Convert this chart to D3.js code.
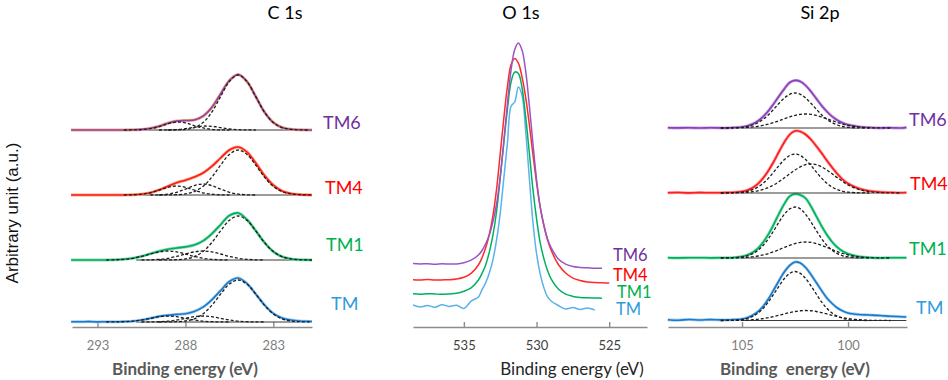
<!DOCTYPE html>
<html><head><meta charset="utf-8">
<script src="https://cdn.jsdelivr.net/npm/d3@7"></script>
<style>body{margin:0;background:#fff}</style></head>
<body><svg id="chart" width="948" height="380"></svg>
<script>
// ---------------- DATA ----------------
const samples = ["TM", "TM1", "TM4", "TM6"];
const panelTitles = ["C 1s", "O 1s", "Si 2p"];
const axisTitles = ["Binding energy (eV)", "Binding energy (eV)", "Binding  energy (eV)"];
const yTitle = "Arbitrary unit (a.u.)";

// C 1s  (binding energy, eV)
const cTicks = [293, 288, 283];
const cGrid = [294.5,294,293.5,293,292.5,292,291.5,291,290.5,290,289.5,289,288.5,288,287.5,287,286.5,286,285.5,285,284.5,284,283.5,283,282.5,282,281.5,281,280.8];
const cFitRange = [290.8, 280.8];
const cOffsets = [5, 67, 132, 197];
const cTM  = [0.3,0.2,0.4,0.1,0.3,0.2,0.4,0.8,2.0,3.7,5.6,6.8,7.6,8.2,10.5,14.9,22.2,31.4,40.5,44,38.5,28,17,8.6,4,2,1,0.6,0.5];
const cTM1 = [0,0,0,0,0,0.2,0.7,1.7,3.6,6.2,8.8,10.7,12,13.1,15,19.1,26.2,35.3,44.5,47,40.4,29.3,17.4,8.4,3.3,1.1,0.3,0.1,0];
const cTM4 = [0,0,0,0,0,0,0,0.2,0.8,2.2,5.1,8.7,12.3,14.8,17.9,22,28.6,37,45,48,43,32,19.5,9.8,4,1.4,0.4,0.1,0];
const cTM6 = [0,0,0,0,0,0,0,0.2,0.6,1.6,3.8,6.8,8.9,9.5,10,13.8,22.5,36,49.5,55.5,48.5,33.5,17.8,7.5,2.5,0.7,0.2,0,0];
// fitted components (C-C main, C-O middle, O-C=O shoulder)
const cTMmain  = [0,0,0,0,0,0,0,0,0,0,0,0.1,0.3,1.0,3.2,8.1,16.6,27.8,37.9,42,37.9,27.8,16.6,8.1,3.2,1.0,0.3,0.1,0];
const cTMmid   = [0,0,0,0,0,0,0,0,0,0.1,0.3,0.8,2.0,3.6,5.3,6,5.3,3.6,2.0,0.8,0.3,0.1,0,0,0,0,0,0,0];
const cTMsh    = [0,0,0,0,0,0.1,0.3,0.8,2.0,3.6,5.3,6,5.3,3.6,2.0,0.8,0.3,0.1,0,0,0,0,0,0,0,0,0,0,0];
const cTM1main = [0,0,0,0,0,0,0,0,0,0,0,0.1,0.3,1.1,3.3,8.4,17.4,29.1,39.7,44,39.7,29.1,17.4,8.4,3.3,1.1,0.3,0.1,0];
const cTM1mid  = [0,0,0,0,0,0,0,0,0,0.2,0.7,1.7,3.6,6.0,8.1,9,8.1,6.0,3.6,1.7,0.7,0.2,0,0,0,0,0,0,0];
const cTM1sh   = [0,0,0,0,0,0.2,0.7,1.7,3.6,6.0,8.1,9,8.1,6.0,3.6,1.7,0.7,0.2,0,0,0,0,0,0,0,0,0,0,0];
const cTM4main = [0,0,0,0,0,0,0,0,0,0,0,0.1,0.3,1.1,3.4,8.6,17.8,29.8,40.6,45,40.6,29.8,17.8,8.6,3.4,1.1,0.3,0.1,0];
const cTM4mid  = [0,0,0,0,0,0,0,0,0,0,0.2,0.9,2.7,5.9,9.4,11,9.4,5.9,2.7,0.9,0.2,0,0,0,0,0,0,0,0];
const cTM4sh   = [0,0,0,0,0,0,0,0.2,0.8,2.2,4.9,7.7,9,7.7,4.9,2.2,0.8,0.2,0,0,0,0,0,0,0,0,0,0,0];
const cTM6main = [0,0,0,0,0,0,0,0,0,0,0,0,0.1,0.6,2.4,7.4,17.8,33.4,48.5,55,48.5,33.4,17.8,7.4,2.4,0.6,0.1,0,0];
const cTM6mid  = [0,0,0,0,0,0,0,0,0,0,0,0.1,0.4,1.3,2.7,3.9,3.7,2.4,1.0,0.3,0.1,0,0,0,0,0,0,0,0];
const cTM6sh   = [0,0,0,0,0,0,0,0.1,0.4,1.3,3.4,6.2,7.9,7.2,4.3,2.1,0.6,0.1,0,0,0,0,0,0,0,0,0,0,0];

// O 1s
const oTicks = [535, 530, 525];
const oGrid = [538.5,538,537.5,537,536.5,536,535.5,535,534.5,534,533.75,533.5,533.25,533,532.75,532.5,532.25,532,531.75,531.5,531.25,531,530.75,530.5,530.25,530,529.75,529.5,529.25,529,528.5,528,527.5,527,526.5,526,525.5,525];
const oOffsets = [17, 29, 44, 59];
const oTM  = [5,3,4.5,2.8,5.2,3.5,4.8,1.5,8.9,13,20.3,27.2,37.1,50.2,70.1,96.7,132,167.5,204,208,223,214.8,179.5,132.8,88,56.5,36.2,22.5,13.4,9,4.5,1,2.5,0.5,2,0,null,null];
const oTM1 = [4.2,3.8,4.3,4,3.7,4.1,4.7,6.7,10.1,18,24.6,33.1,45.9,62.8,86.5,120,155.7,189.3,216.1,225.9,224.6,210.5,181.3,146,108.8,79.3,55.3,39.6,27.7,19.1,9,3.8,1.6,0.6,0.2,0,-0.2,null];
const oTM4 = [3.2,3,3.4,2.9,3.1,3.3,4,5.7,9.7,18,25.3,35.2,48.5,67.3,93.8,129.2,164.8,196.8,218.4,224.5,219.8,206.1,185.9,159,128.7,100.7,75.9,58,43.5,33,18.5,10,4.9,2.5,1,0.4,0.2,0];
const oTM6 = [4.5,4,4.3,3.8,4.2,4,4.1,5.3,7.8,13,17.5,24.3,33,46.4,64.2,91,126.8,164.7,198.3,218.5,225,218,197.3,163.2,124.8,88.5,61.3,43,29.3,20.3,9,3.8,1.4,0.6,0.2,-0.3,-0.2,null];

// Si 2p
const sTicks = [105, 100];
const sGrid = [108.5,108,107.5,107,106.5,106,105.5,105,104.75,104.5,104.25,104,103.75,103.5,103.25,103,102.75,102.5,102.25,102,101.75,101.5,101.25,101,100.75,100.5,100.25,100,99.5,99,98.5,98,97.5,97.25];
const sFitRange = [106.5, 97.25];
const sOffsets = [6.5, 69, 134, 199];
const sTM  = [0.8,0.3,1.0,0.5,0.9,0.6,0.8,1.5,2.8,5.2,8.8,14.3,21.7,30.8,40,48.8,55.2,58.5,57.5,53,46,38,30,22.5,17,12.5,9.5,7.5,6,5.5,5,4.2,3.8,3.5];
const sTM1 = [0.3,0.1,0.2,0.3,0.1,0.2,0.3,1.5,2.9,5.5,9.7,15.8,23.9,33.8,44.5,54.3,61.8,64,63,59.7,51.7,41.9,32.1,23.3,16.1,10.6,6.7,4.2,1.4,0.4,0.1,0.2,0.3,0.2];
const sTM4 = [0.2,0.5,0.1,0.4,0.2,0.3,0.5,1.4,2.8,5.3,9.2,15,22.5,31.5,41.5,51,58.5,62,61.5,58.5,53.5,47,40,32.5,25.5,19,13.5,9.5,4.5,2,0.9,0.5,0.3,0.5];
const sTM6 = [0.3,0.1,0.2,0,0.2,0.1,0.3,1.0,2.1,4.1,7.0,11.4,17.2,24.4,32.0,39.3,45.5,47.6,46.5,42.5,36.5,29.5,22.5,16.5,11.5,7.8,5,3.2,1.2,0.4,0.1,0.2,0,0.6];
// fitted components (Si-O main, second)
const sTMmain  = [0,0,0,0,0,0,0.2,1.0,2.2,4.2,7.4,12.2,18.7,26.5,34.6,42,47.1,49,47.1,42,34.6,26.5,18.7,12.2,7.4,4.2,2.2,1.0,0.2,0,0,0,0,0];
const sTMc2    = [0,0,0,0,0,0,0.1,0.2,0.4,0.8,1.2,1.9,2.8,4.0,5.2,6.6,7.9,9.0,9.75,10,9.75,9.0,7.9,6.6,5.2,4.0,2.8,1.9,0.8,0.2,0.1,0,0,0];
const sTM1main = [0,0,0,0,0,0,0.2,1.1,2.2,4.3,7.7,12.7,19.4,27.5,36.1,43.7,49.1,51,49.1,43.7,36.1,27.5,19.4,12.7,7.7,4.3,2.2,1.1,0.2,0,0,0,0,0];
const sTM1c2   = [0,0,0,0,0,0,0.1,0.4,0.7,1.2,2.0,3.1,4.5,6.3,8.4,10.6,12.7,14.4,15.6,16,15.6,14.4,12.7,10.6,8.4,6.3,4.5,3.1,1.2,0.4,0.1,0,0,0];
const sTM4main = [0,0,0,0,0,0,0.2,0.8,1.7,3.3,5.9,9.7,14.9,21.1,27.6,33.4,37.5,39,37.5,33.4,27.6,21.1,14.9,9.7,5.9,3.3,1.7,0.8,0.2,0,0,0,0,0];
const sTM4c2   = [0,0,0,0,0,0,0.1,0.4,0.7,1.3,2.2,3.6,5.6,8.1,11.5,15.2,19.2,23,26.2,28.3,29,28.3,26.2,23,19.2,15.2,11.5,8.1,3.6,1.3,0.4,0.1,0,0];
const sTM6main = [0,0,0,0,0,0,0.1,0.7,1.5,3.0,5.3,8.7,13.3,18.9,24.7,30.0,33.7,35,33.7,30.0,24.7,18.9,13.3,8.7,5.3,3.0,1.5,0.7,0.1,0,0,0,0,0];
const sTM6c2   = [0,0,0,0,0,0,0.1,0.3,0.6,1.1,1.7,2.7,3.9,5.5,7.3,9.3,11.1,12.6,13.7,14,13.7,12.6,11.1,9.3,7.3,5.5,3.9,2.7,1.1,0.3,0.1,0,0,0];

// ---------------- STYLE / LAYOUT ----------------
const lineColor  = {TM:"#1a7bcb", TM1:"#00b060", TM4:"#ff1e1e", TM6:"#8a40b8"};
const oLineColor = {TM:"#5ab2ea", TM1:"#00b060", TM4:"#ff2a2a", TM6:"#9a55c4"};
const labelColor = {TM:"#2f9be0", TM1:"#00b050", TM4:"#ff0000", TM6:"#7030a0"};
const cHalo = {TM:"#a9d0f0", TM1:"#8fd8b0", TM4:"#f7a27a", TM6:"#f4a86c"};
const sHalo = {TM:"#a9d0f0", TM1:"#8fe0b8", TM4:"#ff9c9c", TM6:"#caa8e2"};

const svg = d3.select("#chart");
const y = d3.scaleLinear().domain([0, 300]).range([327, 27]);
const FONT = "Lato, 'Open Sans', sans-serif";

const panels = [
  {key:"C", grid:cGrid, ticks:cTicks, range:[72,312], domain:[294.45,280.8], offsets:cOffsets,
   spectra:{TM:cTM, TM1:cTM1, TM4:cTM4, TM6:cTM6},
   comps:{TM:[cTMmain,cTMmid,cTMsh], TM1:[cTM1main,cTM1mid,cTM1sh], TM4:[cTM4main,cTM4mid,cTM4sh], TM6:[cTM6main,cTM6mid,cTM6sh]},
   fit:cFitRange, halo:cHalo, colors:lineColor, titleX:285, axisBold:true, axisTitleX:185, labelSize:18,
   labelPos:{TM:[331,-18], TM1:[326,-15], TM4:[325,-7], TM6:[323,-7]}, tickColor:"#7f7f7f"},
  {key:"O", grid:oGrid, ticks:oTicks, range:[413,647], domain:[538.5,522.4], offsets:oOffsets,
   spectra:{TM:oTM, TM1:oTM1, TM4:oTM4, TM6:oTM6}, comps:null, fit:null, halo:null, colors:oLineColor,
   titleX:521, axisBold:false, axisTitleX:572, labelSize:16.5,
   labelPos:{TM:[616,309], TM1:[617,292.5], TM4:[613,275], TM6:[613,255]}, absLabel:true, tickColor:"#404040"},
  {key:"S", grid:sGrid, ticks:sTicks, range:[668,907], domain:[108.49,97.22], offsets:sOffsets,
   spectra:{TM:sTM, TM1:sTM1, TM4:sTM4, TM6:sTM6},
   comps:{TM:[sTMmain,sTMc2], TM1:[sTM1main,sTM1c2], TM4:[sTM4main,sTM4c2], TM6:[sTM6main,sTM6c2]},
   fit:sFitRange, halo:sHalo, colors:lineColor, titleX:820, axisBold:true, axisTitleX:795, labelSize:18,
   labelPos:{TM:[916,-12.5], TM1:[909,-9], TM4:[910,-9], TM6:[909,-8]}, tickColor:"#7f7f7f"}
];

function trimZeros(pts){
  let a = 0, b = pts.length - 1;
  while (a < pts.length && !(pts[a][1] > 0)) a++;
  while (b >= 0 && !(pts[b][1] > 0)) b--;
  return pts.slice(Math.max(0, a - 1), Math.min(pts.length, b + 2));
}

panels.forEach((p, pi) => {
  const x = d3.scaleLinear().domain(p.domain).range(p.range);
  const g = svg.append("g");
  const line = (off) => d3.line().defined(d => d[1] != null)
      .x(d => x(d[0])).y(d => y(d[1] + off)).curve(d3.curveCatmullRom.alpha(0.5));

  // axis
  const axis = d3.axisBottom(x).tickValues(p.ticks).tickSize(-5).tickSizeOuter(0).tickPadding(14).tickFormat(d3.format("d"));
  const ag = g.append("g").attr("transform", `translate(0,${y(0)})`).call(axis);
  ag.select(".domain").attr("stroke", "#8c8c8c").attr("stroke-width", 1.6);
  ag.selectAll(".tick line").attr("stroke", "#8c8c8c").attr("stroke-width", 1.4);
  ag.selectAll(".tick text").attr("font-family", FONT).attr("font-size", 13).attr("fill", p.tickColor);

  samples.forEach((s, si) => {
    const off = p.offsets[si];
    const pts = p.grid.map((e, i) => [e, p.spectra[s][i]]);
    if (p.fit) {
      g.append("line").attr("x1", x(p.fit[0])).attr("x2", x(p.fit[1]))
        .attr("y1", y(off)).attr("y2", y(off)).attr("stroke", "#3a3a3a").attr("stroke-width", 1.2);
    }
    if (p.halo) {
      g.append("path").datum(pts).attr("d", line(off)).attr("fill", "none")
        .attr("stroke", p.halo[s]).attr("stroke-width", 3).attr("stroke-linejoin", "round");
    }
    g.append("path").datum(pts).attr("d", line(off)).attr("fill", "none")
      .attr("stroke", p.colors[s]).attr("stroke-width", p.key === "O" ? 1.5 : 1.6).attr("stroke-linejoin", "round");
    if (p.comps) {
      p.comps[s].forEach(comp => {
        const cp = trimZeros(p.grid.map((e, i) => [e, comp[i]]));
        g.append("path").datum(cp).attr("d", line(off)).attr("fill", "none")
          .attr("stroke", "#1e1e1e").attr("stroke-width", 1.3).attr("stroke-dasharray", "3,2");
      });
    }
    // label
    const lp = p.labelPos[s];
    const ly = p.absLabel ? lp[1] : y(off) + lp[1];
    g.append("text").attr("x", lp[0]).attr("y", ly + p.labelSize * 0.36).text(s)
      .attr("font-family", FONT).attr("font-size", p.labelSize).attr("fill", labelColor[s]);
  });

  // panel title
  g.append("text").attr("x", p.titleX).attr("y", 19).attr("text-anchor", "middle")
    .attr("font-family", FONT).attr("font-size", 18).attr("fill", "#000").text(panelTitles[pi]);
  // axis title
  g.append("text").attr("x", p.axisTitleX).attr("y", 375).attr("text-anchor", "middle")
    .attr("font-family", FONT).attr("font-size", 17)
    .attr("font-weight", p.axisBold ? "bold" : "normal")
    .attr("fill", p.axisBold ? "#595959" : "#262626")
    .style("white-space", "pre").text(axisTitles[pi]);
});

// y title
svg.append("text").attr("transform", "translate(18,213) rotate(-90)").attr("text-anchor", "middle")
  .attr("font-family", "'Liberation Sans', Arial, sans-serif").attr("font-size", 17).attr("fill", "#111")
  .text(yTitle);
</script>
</body></html>
